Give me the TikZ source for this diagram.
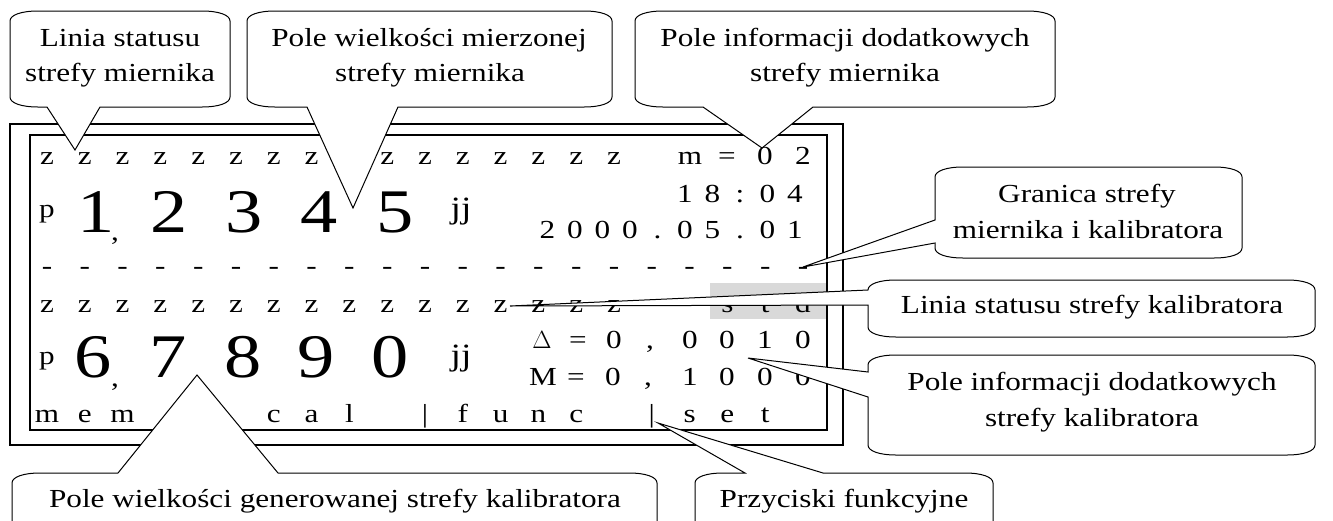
\documentclass[tikz,border=0pt]{standalone}
\usepackage{fontspec}
\setmainfont{Liberation Serif}[FakeStretch=1.2]
\definecolor{stdgray}{HTML}{D9D9D9}

% corner size of the speech boxes
\def\crx{28}
\def\cry{10}

% speech box with its pointer on the bottom edge
% #1,#2 top-left  #3,#4 bottom-right  #5,#6 pointer base (x)  #7 tip
\newcommand\speechdown[7]{%
  \draw[callout] (#1,#2+\cry) .. controls (#1,#2+0.4*\cry) and (#1+0.4*\crx,#2) .. (#1+\crx,#2)
    -- (#3-\crx,#2) .. controls (#3-0.4*\crx,#2) and (#3,#2+0.4*\cry) .. (#3,#2+\cry)
    -- (#3,#4-\cry) .. controls (#3,#4-0.4*\cry) and (#3-0.4*\crx,#4) .. (#3-\crx,#4)
    -- (#6,#4) -- (#7) -- (#5,#4)
    -- (#1+\crx,#4) .. controls (#1+0.4*\crx,#4) and (#1,#4-0.4*\cry) .. (#1,#4-\cry) -- cycle;}

% speech box with its pointer on the left edge
% #5 upper y, #6 lower y of the pointer base
\newcommand\speechleft[7]{%
  \draw[callout] (#1,#2+\cry) .. controls (#1,#2+0.4*\cry) and (#1+0.4*\crx,#2) .. (#1+\crx,#2)
    -- (#3-\crx,#2) .. controls (#3-0.4*\crx,#2) and (#3,#2+0.4*\cry) .. (#3,#2+\cry)
    -- (#3,#4-\cry) .. controls (#3,#4-0.4*\cry) and (#3-0.4*\crx,#4) .. (#3-\crx,#4)
    -- (#1+\crx,#4) .. controls (#1+0.4*\crx,#4) and (#1,#4-0.4*\cry) .. (#1,#4-\cry)
    -- (#1,#6) -- (#7) -- (#1,#5) -- cycle;}

% speech box with its pointer on the top edge
% #5,#6 pointer base (x)
\newcommand\speechup[7]{%
  \draw[callout] (#1,#2+\cry) .. controls (#1,#2+0.4*\cry) and (#1+0.4*\crx,#2) .. (#1+\crx,#2)
    -- (#5,#2) -- (#7) -- (#6,#2)
    -- (#3-\crx,#2) .. controls (#3-0.4*\crx,#2) and (#3,#2+0.4*\cry) .. (#3,#2+\cry)
    -- (#3,#4-\cry) .. controls (#3,#4-0.4*\cry) and (#3-0.4*\crx,#4) .. (#3-\crx,#4)
    -- (#1+\crx,#4) .. controls (#1+0.4*\crx,#4) and (#1,#4-0.4*\cry) .. (#1,#4-\cry) -- cycle;}

\begin{document}
\begin{tikzpicture}[x=1pt,y=-1pt,
  frame/.style={draw=black,line width=2pt},
  ch/.style={anchor=base,inner sep=0pt,font=\fontsize{26}{31}\selectfont},
  big/.style={anchor=base,inner sep=0pt,font=\fontsize{62}{70}\selectfont},
  jay/.style={anchor=base,inner sep=0pt,font=\fontsize{31}{36}\selectfont},
  lbl/.style={anchor=base,inner sep=0pt,font=\fontsize{26}{31}\selectfont},
  callout/.style={draw=black,fill=white,line width=1pt,line join=miter}]
\clip (0,0) rectangle (1333,520);

% highlighted field of the calibrator status line
\fill[stdgray] (710,283) rectangle (826,319);

% display frames
\draw[frame] (10,124) rectangle (843,445);
\draw[frame] (30,135) rectangle (827,430);

% row 1: meter status line
\foreach \k in {0,1,2,3,4,5,6,7,9,10,11,12,13,14,15}
  \node[ch] (ra\k) at (47+37.8*\k,164) {z};
\node[ch] (rm) at (690,164) {m};
\node[ch] (req) at (727,164) {=};
\node[ch] (rma) at (765,164) {0};
\node[ch] (rmb) at (803,164) {2};

% row 2: measured value
\node[ch] (pa) at (47,217) {p};
\foreach \d/\x [count=\i] in {1/96,2/169,3/244,4/319,5/395}
  \node[big] (ma\i) at (\x,232) {\d};
\node[ch] (ca) at (115,240) {,};
\node[jay] (ja) at (461,218) {jj};
\foreach \c [count=\i from 0] in {1,8,:,0,4}
  \node[ch] (t\i) at (685+27.5*\i,202) {\c};
\foreach \c [count=\i from 0] in {2,0,0,0,.,0,5,.,0,1}
  \node[ch] (d\i) at (547.5+27.5*\i,238) {\c};

% row 3: zone boundary
\foreach \k in {0,...,20}
  \node[ch] (b\k) at (47+37.8*\k,274) {-};

% row 4: calibrator status line
\foreach \k in {0,...,15}
  \node[ch] (rb\k) at (47+37.8*\k,312) {z};
\foreach \c [count=\i from 18] in {s,t,d}
  \node[ch] (sd\i) at (47+37.8*\i,312) {\c};

% row 5: generated value
\node[ch] (pb) at (47,364) {p};
\foreach \d/\x [count=\i] in {6/93,7/168,8/243,9/316,0/390}
  \node[big] (mb\i) at (\x,377) {\d};
\node[ch] (cb) at (115,386) {,};
\node[jay] (jb) at (461,365) {jj};
\foreach \c/\x [count=\i] in {$\Delta$/542,=/578,0/614,{,}/650,0/690,0/727,1/765,0/803}
  \node[ch] (dl\i) at (\x,348) {\c};
\foreach \c/\x [count=\i] in {M/543,=/576,0/613,{,}/648,1/690,0/727,0/765,0/803}
  \node[ch] (mu\i) at (\x,385) {\c};

% row 6: function keys
\foreach \c/\k in {m/0,e/1,m/2,c/6,a/7,l/8,|/10,f/11,u/12,n/13,c/14,|/16,s/17,e/18,t/19}
  \node[ch] (fk\k) at (47+37.8*\k,422) {\c};

% pointer tips
\coordinate (tip1) at (75,150);
\coordinate (tip2) at (353,208);
\coordinate (tip3) at (762,148);
\coordinate (tip4) at (803,267);
\coordinate (tip5) at (510,306);
\coordinate (tip6) at (748,358);
\coordinate (tip7) at (197,375);
\coordinate (tip8) at (658,423);

% speech boxes
\speechdown{10}{11}{230}{107}{47}{100}{tip1}
\node[lbl] (c1a) at (120,46) {Linia statusu};
\node[lbl] (c1b) at (120,81) {strefy miernika};

\speechdown{247}{11}{612}{107}{307}{398}{tip2}
\node[lbl] (c2a) at (429,46) {Pole wielkości mierzonej};
\node[lbl] (c2b) at (430,81) {strefy miernika};

\speechdown{635}{11}{1055}{107}{703}{813}{tip3}
\node[lbl] (c3a) at (845,46) {Pole informacji dodatkowych};
\node[lbl] (c3b) at (845,81) {strefy miernika};

\speechleft{935}{167}{1242}{258}{220}{243}{tip4}
\node[lbl] (c4a) at (1087,202) {Granica strefy};
\node[lbl] (c4b) at (1088,238) {miernika i kalibratora};

\speechleft{868}{280}{1315}{337}{290}{305}{tip5}
\node[lbl] (c5a) at (1092,313) {Linia statusu strefy kalibratora};

\speechleft{868}{355}{1315}{455}{372}{397}{tip6}
\node[lbl] (c6a) at (1092,390) {Pole informacji dodatkowych};
\node[lbl] (c6b) at (1092,426) {strefy kalibratora};

\speechup{12}{473}{657}{545}{118}{278}{tip7}
\node[lbl] (c7a) at (335,507) {Pole wielkości generowanej strefy kalibratora};

\speechup{695}{473}{993}{545}{745}{823}{tip8}
\node[lbl] (c8a) at (844,507) {Przyciski funkcyjne};
\end{tikzpicture}
\end{document}
